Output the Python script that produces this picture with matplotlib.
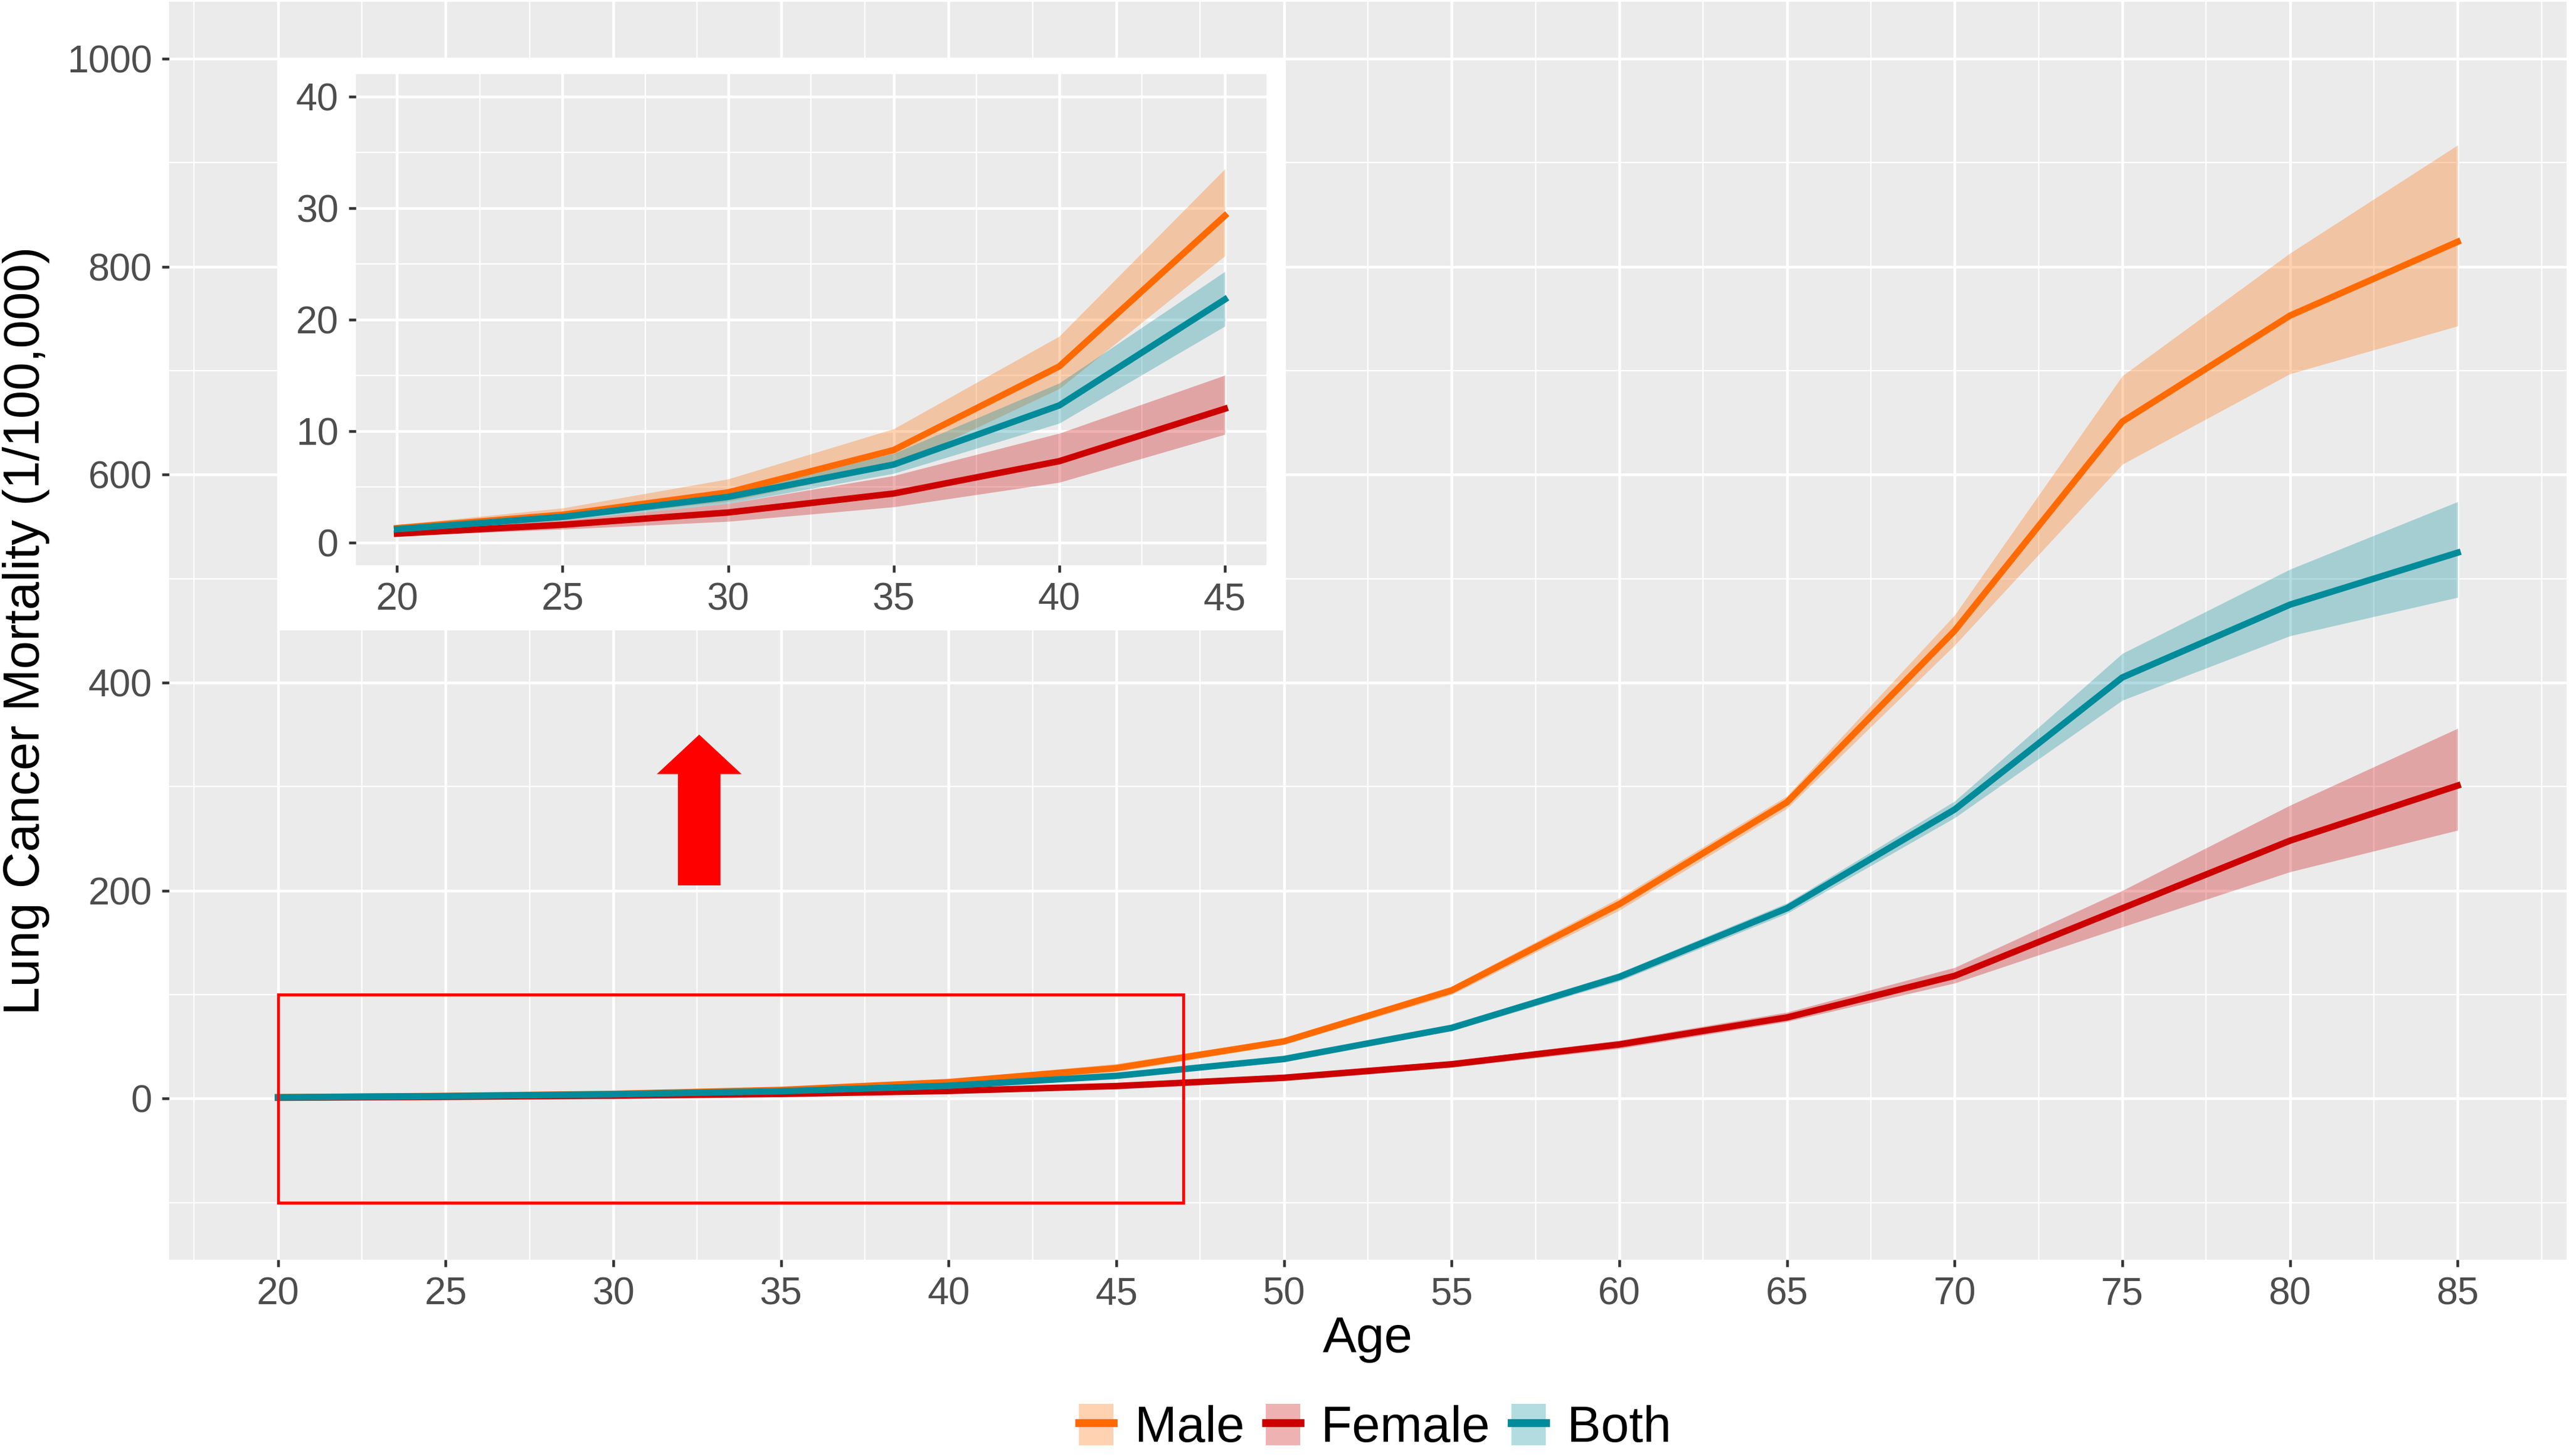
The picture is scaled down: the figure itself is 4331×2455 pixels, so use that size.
import matplotlib
matplotlib.use("Agg")
import matplotlib.pyplot as plt
from matplotlib.patches import Rectangle, Patch
from matplotlib.lines import Line2D
import numpy as np

plt.rcParams['font.family'] = ['Liberation Sans', 'DejaVu Sans']

# ---------------- data ----------------
ages = [20, 25, 30, 35, 40, 45, 50, 55, 60, 65, 70, 75, 80, 85]

male_mean  = [1.3, 2.5, 4.5, 8.3, 15.8, 29.3, 55, 104, 187, 285, 450, 651, 753, 824]
male_low   = [1.0, 2.1, 3.7, 6.8, 13.8, 25.7, 52, 100, 181, 279, 436, 610, 697, 743]
male_high  = [1.6, 3.1, 5.7, 10.2, 18.5, 33.5, 58, 108, 193, 291, 465, 695, 813, 917]

female_mean = [0.8, 1.6, 2.7, 4.4, 7.3, 12.0, 20, 33, 52, 78, 118, 183, 248, 301]
female_low  = [0.6, 1.2, 1.9, 3.2, 5.4, 9.7, 17, 30, 48, 74, 111, 165, 218, 258]
female_high = [1.0, 2.0, 3.5, 6.0, 9.8, 15.0, 23, 36, 56, 83, 126, 200, 282, 356]

both_mean = [1.2, 2.3, 4.1, 7.0, 12.3, 21.8, 38, 68, 117, 183, 278, 405, 475, 525]
both_low  = [1.0, 2.0, 3.5, 6.2, 10.7, 19.4, 36, 65, 113, 178, 270, 383, 445, 482]
both_high = [1.4, 2.6, 4.6, 8.0, 14.3, 24.3, 40, 71, 121, 188, 286, 428, 509, 574]

series_names = ["Male", "Female", "Both"]
colors = {"Male": "#FF6A00", "Female": "#CC0000", "Both": "#008B9A"}

main_xticks = [20, 25, 30, 35, 40, 45, 50, 55, 60, 65, 70, 75, 80, 85]
main_yticks = [0, 200, 400, 600, 800, 1000]
inset_xticks = [20, 25, 30, 35, 40, 45]
inset_yticks = [0, 10, 20, 30, 40]
inset_max_age = 45

# zoom box and inset placement (data coords of main axes)
zoom_box = dict(x0=20, x1=47, y0=-100, y1=100)
inset_box = dict(x0=20, x1=50, y0=450, y1=1000)
arrow_spec = dict(x=32.56, y0=205, y1=350, width=1.27, head_width=2.53, head_length=38)

xlabel = "Age"
ylabel = "Lung Cancer Mortality (1/100,000)"

data = {
    "Male": (male_mean, male_low, male_high),
    "Female": (female_mean, female_low, female_high),
    "Both": (both_mean, both_low, both_high),
}

# ---------------- figure ----------------
W, H, DPI = 4331, 2455, 300
fig = plt.figure(figsize=(W / DPI, H / DPI), dpi=DPI)

BG = "#EBEBEB"
TICK_COL = "#333333"
LAB_COL = "#4D4D4D"
LW_LINE = 2.6
ALPHA = 0.3


def style_axes(ax, xt, yt, xminor, yminor, fs):
    ax.set_facecolor(BG)
    for s in ax.spines.values():
        s.set_visible(False)
    ax.set_xticks(xt)
    ax.set_yticks(yt)
    ax.set_xticks(xminor, minor=True)
    ax.set_yticks(yminor, minor=True)
    ax.grid(which="major", color="white", linewidth=1.1)
    ax.grid(which="minor", color="white", linewidth=0.55)
    ax.set_axisbelow(True)
    ax.tick_params(which="major", length=2.9, width=1.1, color=TICK_COL,
                   labelsize=fs, labelcolor=LAB_COL, pad=4)
    ax.tick_params(which="minor", length=0)


# main axes
px_left, px_right, px_top, px_bottom = 285, 4327, 2.7, 2124
ax = fig.add_axes([px_left / W, (H - px_bottom) / H,
                   (px_right - px_left) / W, (px_bottom - px_top) / H])
style_axes(ax, main_xticks, main_yticks,
           np.arange(17.5, 90, 5), np.arange(-100, 1000, 200), 15.5)
ax.set_xlim(16.75, 88.25)
ax.set_ylim(-155, 1055)

for name in series_names:
    m, lo, hi = data[name]
    ax.fill_between(ages, lo, hi, color=colors[name], alpha=ALPHA, linewidth=0, zorder=2)
for name in series_names:
    m, lo, hi = data[name]
    ax.plot(ages, m, color=colors[name], linewidth=LW_LINE, zorder=3)

# zoom rectangle
ax.add_patch(Rectangle((zoom_box["x0"], zoom_box["y0"]),
                       zoom_box["x1"] - zoom_box["x0"], zoom_box["y1"] - zoom_box["y0"],
                       fill=False, edgecolor="#FF0000", linewidth=1.2, zorder=4))
# arrow
ax.arrow(arrow_spec["x"], arrow_spec["y0"], 0, arrow_spec["y1"] - arrow_spec["y0"],
         width=arrow_spec["width"], head_width=arrow_spec["head_width"],
         head_length=arrow_spec["head_length"], length_includes_head=True,
         color="#FF0000", linewidth=0, zorder=4)
# white background for inset
ax.add_patch(Rectangle((inset_box["x0"], inset_box["y0"]),
                       inset_box["x1"] - inset_box["x0"], inset_box["y1"] - inset_box["y0"],
                       facecolor="white", edgecolor="none", zorder=5))

# inset axes
ix_left, ix_right, ix_top, ix_bottom = 599.6, 2134.7, 125, 952.5
axi = fig.add_axes([ix_left / W, (H - ix_bottom) / H,
                    (ix_right - ix_left) / W, (ix_bottom - ix_top) / H])
style_axes(axi, inset_xticks, inset_yticks,
           np.arange(22.5, 46, 5), np.arange(5, 45, 10), 15.5)
axi.set_xlim(18.75, 46.25)
axi.set_ylim(-2, 42)

sel = [i for i, a in enumerate(ages) if a <= inset_max_age]
ia = [ages[i] for i in sel]
for name in series_names:
    m, lo, hi = data[name]
    axi.fill_between(ia, [lo[i] for i in sel], [hi[i] for i in sel],
                     color=colors[name], alpha=ALPHA, linewidth=0, zorder=2)
for name in series_names:
    m, lo, hi = data[name]
    axi.plot(ia, [m[i] for i in sel], color=colors[name], linewidth=LW_LINE, zorder=3)

# axis titles
fig.text(2306 / W, (H - 2280) / H, xlabel, ha="center", va="baseline",
         fontsize=20.5, color="black")
fig.text(44 / W, (H - (px_top + px_bottom) / 2) / H, ylabel, rotation=90,
         ha="center", va="center", fontsize=20.5, color="black")

# legend
handles = []
for name in series_names:
    handles.append((Patch(facecolor=colors[name], alpha=ALPHA, edgecolor="none"),
                    Line2D([], [], color=colors[name], linewidth=3.2)))
fig.legend(handles, series_names, loc="center", bbox_to_anchor=(2318 / W, (H - 2408) / H),
           ncol=3, frameon=False, fontsize=20.5, handlelength=0.68, handleheight=0.88,
           handletextpad=0.42, columnspacing=0.42, borderpad=0, borderaxespad=0)

fig.savefig("out.png", dpi=DPI)
